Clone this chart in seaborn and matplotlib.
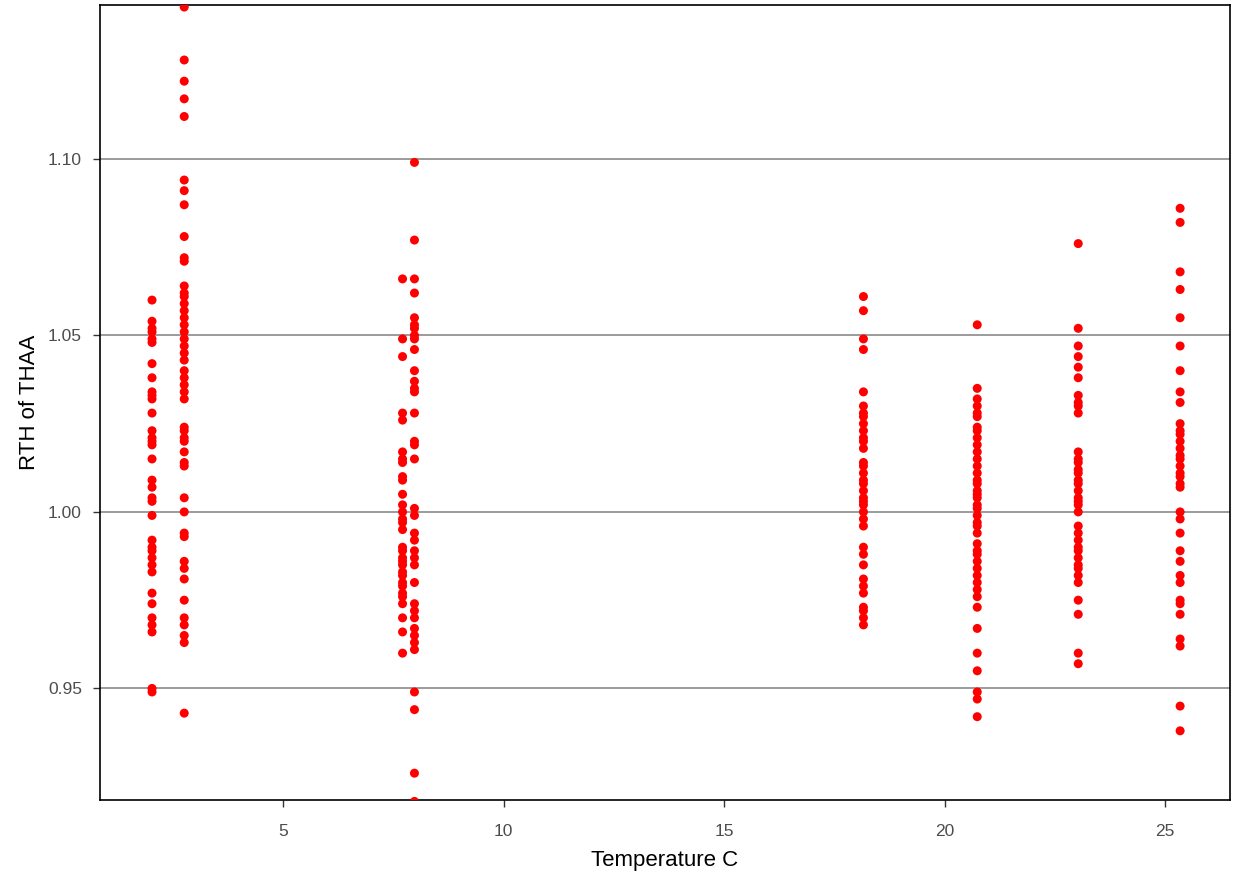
import matplotlib
matplotlib.use("Agg")
import matplotlib.pyplot as plt
import seaborn as sns
import pandas as pd

temperatures = [2.03, 2.76, 7.71, 7.98, 18.16, 20.74, 23.03, 25.34]

rth_t1 = [1.060, 1.054, 1.052, 1.051, 1.049, 1.048, 1.042, 1.038, 1.034, 1.033, 1.032,
          1.028, 1.023, 1.021, 1.020, 1.019, 1.015, 1.009, 1.007, 1.004, 1.003, 0.999,
          0.992, 0.990, 0.989, 0.987, 0.985, 0.983, 0.977, 0.974, 0.970, 0.968, 0.966,
          0.950, 0.949]
rth_t2 = [1.143, 1.128, 1.122, 1.117, 1.112, 1.094, 1.091, 1.087, 1.078, 1.072, 1.071,
          1.064, 1.062, 1.061, 1.059, 1.057, 1.055, 1.053, 1.051, 1.049, 1.047, 1.045,
          1.043, 1.040, 1.038, 1.036, 1.034, 1.032, 1.024, 1.023, 1.021, 1.020, 1.017,
          1.014, 1.013, 1.004, 1.000, 0.994, 0.993, 0.986, 0.984, 0.981, 0.975, 0.970,
          0.968, 0.965, 0.963, 0.943]
rth_t3 = [1.066, 1.049, 1.044, 1.028, 1.026, 1.017, 1.015, 1.014, 1.010, 1.009, 1.005,
          1.002, 1.000, 0.998, 0.997, 0.995, 0.990, 0.989, 0.987, 0.986, 0.985, 0.983,
          0.982, 0.980, 0.979, 0.977, 0.976, 0.974, 0.970, 0.966, 0.960]
rth_t4 = [1.099, 1.077, 1.066, 1.062, 1.055, 1.053, 1.052, 1.050, 1.049, 1.046, 1.040,
          1.037, 1.035, 1.034, 1.028, 1.020, 1.019, 1.015, 1.001, 0.999, 0.994, 0.992,
          0.989, 0.987, 0.985, 0.980, 0.974, 0.972, 0.970, 0.967, 0.965, 0.963, 0.961,
          0.949, 0.944, 0.926, 0.918]
rth_t5 = [1.061, 1.057, 1.049, 1.046, 1.034, 1.030, 1.028, 1.027, 1.025, 1.023, 1.021,
          1.020, 1.018, 1.014, 1.013, 1.011, 1.009, 1.008, 1.006, 1.004, 1.003, 1.002,
          1.000, 0.998, 0.996, 0.990, 0.988, 0.985, 0.981, 0.979, 0.977, 0.973, 0.972,
          0.970, 0.968]
rth_t6 = [1.053, 1.035, 1.032, 1.030, 1.028, 1.027, 1.024, 1.023, 1.021, 1.019, 1.017,
          1.015, 1.013, 1.011, 1.009, 1.008, 1.006, 1.005, 1.004, 1.002, 1.001, 0.999,
          0.997, 0.996, 0.994, 0.991, 0.989, 0.988, 0.986, 0.984, 0.982, 0.980, 0.978,
          0.976, 0.973, 0.967, 0.960, 0.955, 0.949, 0.947, 0.942]
rth_t7 = [1.076, 1.052, 1.047, 1.044, 1.041, 1.038, 1.033, 1.031, 1.030, 1.028, 1.017,
          1.015, 1.014, 1.012, 1.011, 1.009, 1.008, 1.006, 1.004, 1.003, 1.002, 1.000,
          0.996, 0.994, 0.992, 0.990, 0.989, 0.987, 0.985, 0.984, 0.982, 0.980, 0.975,
          0.971, 0.960, 0.957]
rth_t8 = [1.086, 1.082, 1.068, 1.063, 1.055, 1.047, 1.040, 1.034, 1.031, 1.025, 1.023,
          1.022, 1.020, 1.018, 1.016, 1.015, 1.013, 1.011, 1.010, 1.008, 1.007, 1.000,
          0.998, 0.994, 0.989, 0.986, 0.982, 0.980, 0.975, 0.974, 0.971, 0.964, 0.962,
          0.945, 0.938]

x_ticks = [5, 10, 15, 20, 25]
y_ticks = [0.95, 1.00, 1.05, 1.10]
y_tick_labels = ["0.95", "1.00", "1.05", "1.10"]

groups = [rth_t1, rth_t2, rth_t3, rth_t4, rth_t5, rth_t6, rth_t7, rth_t8]
df = pd.concat(
    [pd.DataFrame({"Temperature": [t] * len(v), "RTH": v}) for t, v in zip(temperatures, groups)],
    ignore_index=True,
)

sns.set_style("white")
plt.rcParams["font.family"] = ["Liberation Sans", "DejaVu Sans"]

fig = plt.figure(figsize=(12.39, 8.80), dpi=100)
ax = fig.add_axes([0.0807, 0.0909, 0.9120, 0.9035])

for yv in y_ticks:
    ax.axhline(yv, color="#8a8a8a", linewidth=1.2, zorder=0)

sns.scatterplot(data=df, x="Temperature", y="RTH", ax=ax, color="#ff0000",
                s=42, edgecolor="none", linewidth=0, zorder=3, clip_on=True)

ax.set_xlim(0.85, 26.47)
ax.set_ylim(0.9184, 1.1436)
ax.set_xticks(x_ticks)
ax.set_xticklabels([str(t) for t in x_ticks])
ax.set_yticks(y_ticks)
ax.set_yticklabels(y_tick_labels)
ax.tick_params(axis="both", which="major", bottom=True, left=True, top=False, right=False,
               direction="out", length=5, width=1, color="#333333",
               labelcolor="#4d4d4d", labelsize=12.5, pad=8)
ax.tick_params(axis="x", pad=12)
ax.set_xlabel("Temperature C", fontsize=16, color="black", labelpad=8)
ax.set_ylabel("RTH of THAA", fontsize=16, color="black", labelpad=6)
for sp in ax.spines.values():
    sp.set_visible(True)
    sp.set_color("black")
    sp.set_linewidth(1.2)
ax.grid(False)

fig.savefig("out.png", dpi=100, facecolor="white")
